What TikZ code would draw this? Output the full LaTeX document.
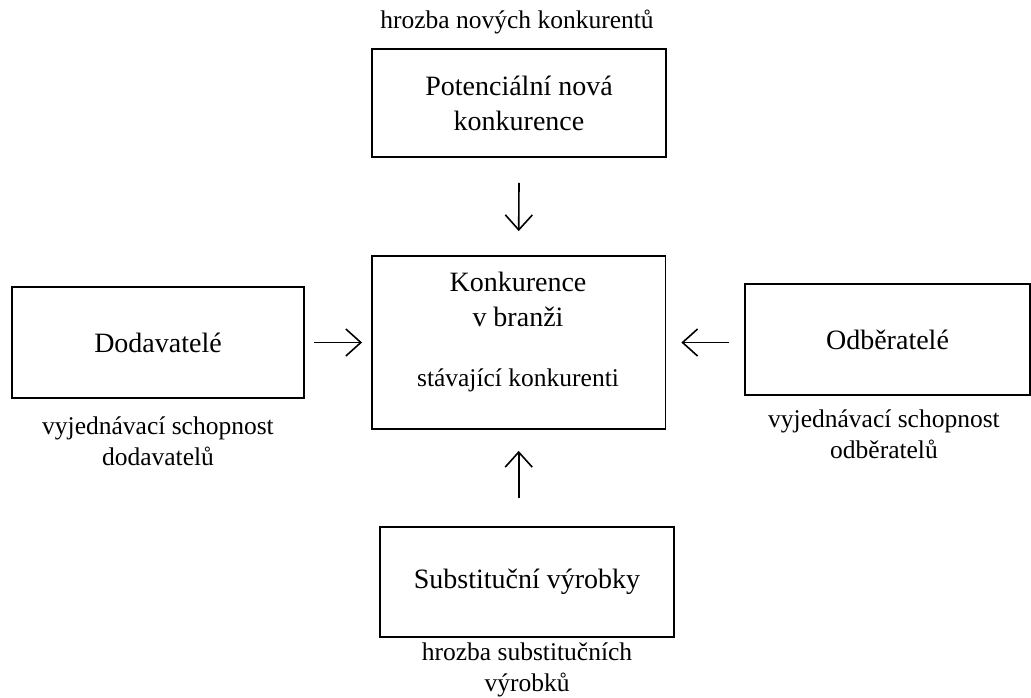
\documentclass[tikz,border=0pt]{standalone}
\usepackage{fontspec}
\setmainfont{Liberation Serif}
\usetikzlibrary{arrows.meta}
\begin{document}
\begin{tikzpicture}[x=1pt,y=-1pt,
  box/.style={draw,line width=1.8pt,inner sep=0pt,align=center,
    font=\fontsize{28}{35}\selectfont},
  boxtext/.style={inner sep=0pt,align=center,font=\fontsize{28}{35}\selectfont},
  note/.style={inner sep=0pt,align=center,font=\fontsize{25.5}{31}\selectfont},
  force/.style={line width=1.6pt,
    -{Straight Barb[length=15pt,width=27pt,line width=1.6pt]}}]
\useasboundingbox (0,0) rectangle (1031,697);

% the five forces
\node[box,minimum width=294pt,minimum height=108pt] (entry) at (519,103)
  {Potenciální nová\\konkurence};
\node[box,minimum width=293.5pt,minimum height=173pt] (rivalry) at (518.7,342.5) {};
\node[boxtext] (rivalryname) at (518,299.5) {Konkurence\\v branži};
\node[note] (rivalrynote) at (518,380) {stávající konkurenti};
\node[box,minimum width=292pt,minimum height=111pt] (suppliers) at (158,342.5)
  {Dodavatelé};
\node[box,minimum width=285pt,minimum height=111pt] (buyers) at (887.5,339.5)
  {Odběratelé};
\node[box,minimum width=294pt,minimum height=110pt] (substitutes) at (527,582)
  {Substituční výrobky};

% captions
\node[note] (entrynote) at (517,22) {hrozba nových konkurentů};
\node[note] (suppliersnote) at (158,441) {vyjednávací schopnost\\dodavatelů};
\node[note] (buyersnote) at (884,434) {vyjednávací schopnost\\odběratelů};
\node[note] (substitutesnote) at (527,670) {hrozba substitučních\\výrobků};

% pressure on the industry
\coordinate (subtop) at ([yshift=28pt]substitutes.north);
\draw[force] ([yshift=-25pt]entry.south) -- ([yshift=24pt]rivalry.north);
\draw[force] ([xshift=9pt]suppliers.east) -- ([xshift=-9pt]rivalry.west);
\draw[force] ([xshift=-15pt]buyers.west |- rivalry.east) -- ([xshift=15pt]rivalry.east);
\draw[force] (rivalry.south |- subtop) -- ([yshift=-21pt]rivalry.south);
\end{tikzpicture}
\end{document}
